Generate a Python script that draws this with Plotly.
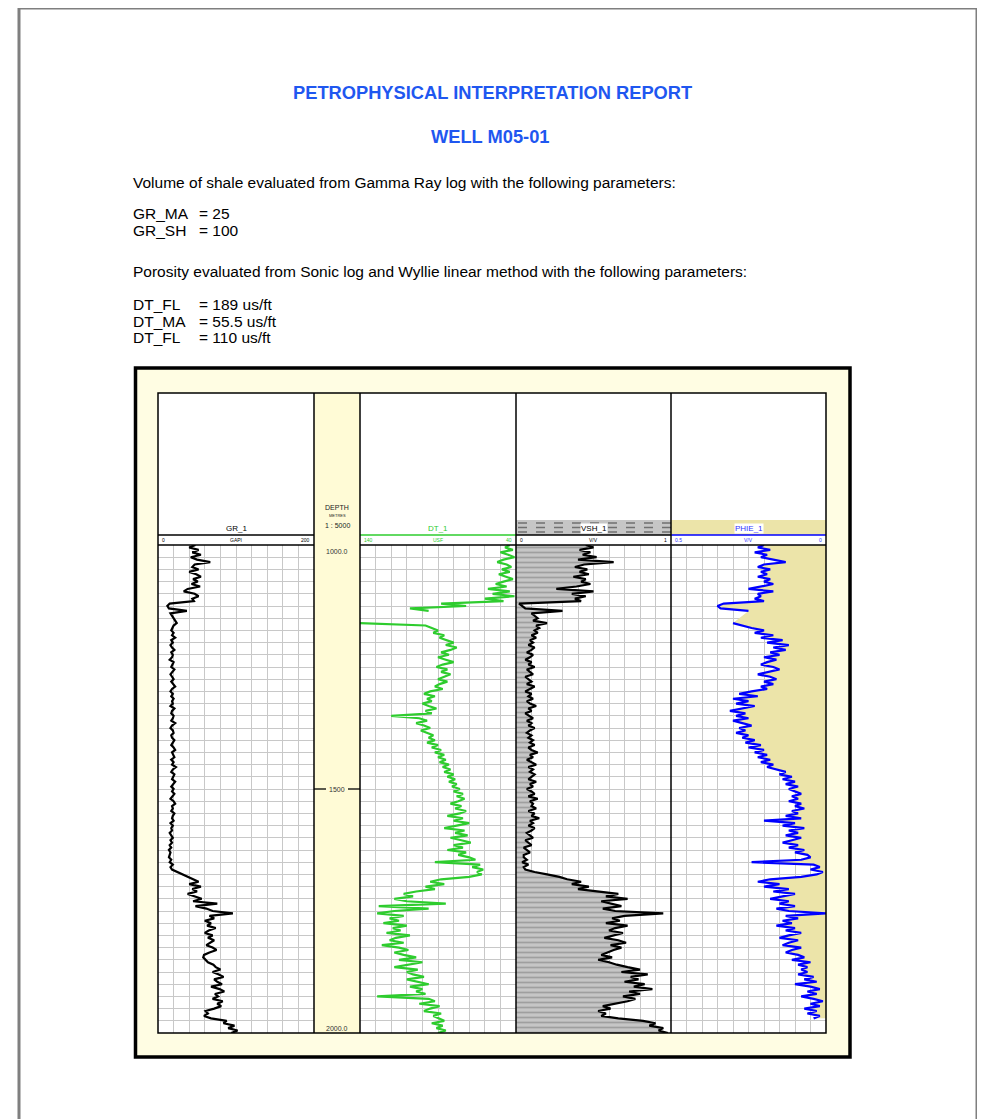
import plotly.graph_objects as go

W, H = 985, 1119
NaN = None

# ---------------- data ----------------
depth = list(range(1000, 2001, 5))  # metres, 5 m sampling

gr_api = [
    48, 40, 52, 44, 55, 42, 50, 67, 47, 44, 52, 40, 49, 55, 45, 51, 43, 54, 38, 33,
    47, 52, 44, 46, 15, 12, 14, 37, 16, 18, 21, 22, 24, 20,
    19, 17, 20, 18, 22, 17, 19, 16, 18, 21, 17, 19, 18, 15, 20, 18, 17, 21, 19, 16,
    18, 20, 17, 19, 22, 18, 16, 19, 17, 20, 18, 19, 16, 21, 18, 17, 20, 19, 17, 22,
    18, 16, 19, 20, 17, 18, 21,
    19, 17, 20, 22, 18, 19, 21, 17, 20, 18, 23, 19, 17, 21, 20, 18, 22, 19, 17, 20,
    18, 21, 19, 16, 20, 22, 18, 19, 17, 21, 19, 18, 20, 16, 19, 17, 18, 15, 17, 19,
    16, 18, 15, 17, 14, 16, 15,
    14, 17, 15, 19, 16, 18,
    25, 33, 40,
    46, 52, 40, 55, 44, 50, 38, 47, 56, 45,
    76, 48, 62, 70,
    96,
    66, 72, 60, 68, 63, 74, 65, 60, 70, 64, 72, 67, 62, 70, 75, 66,
    59, 58, 61,
    64, 71, 74, 80, 70, 78, 84, 72, 76, 82, 68, 79, 85, 73, 77, 70, 83, 76, 81, 72,
    61, 64, 59, 68,
    88, 84, 98, 90, 102, 94,
]

dt_usf = [
    44, 47, 42, 50, 45, 41, 48, 52, 46, 43, 49, 44, 51, 47, 42, 48, 53, 46,
    58, 44, 55, 41, 60, 48,
    88, 72, 108, 96,
    NaN, NaN, NaN, NaN,
    140, 98,
    94, 90, 93, 86, 89, 84, 80, 85, 78, 82,
    88, 83, 90, 85, 80, 87, 91, 84, 88, 82, 86, 90, 84, 89, 92, 87,
    95, 99, 92, 97, 94, 100, 96, 91, 98, 94,
    120,
    102, 97, 104, 99, 95, 101, 97, 93,
    96, 92, 97, 90, 94, 88, 92, 86, 90, 85, 89, 83, 87, 82, 86, 80, 84, 79,
    83, 78, 81, 76, 80, 74, 78, 73, 77, 82, 75, 79, 72, 76,
    84, 74, 80, 70, 78, 86, 73, 79, 71, 82, 75, 69, 80, 74, 84, 72, 77, 70,
    66, 92, 63, 68, 61, 65, 62, 70,
    88, 95, 86, 98, 92,
    104, 112, 106, 118, 110,
    85, 128, 96,
    118, 129, 112, 121, 115, 125, 110, 119, 114, 123, 108, 117, 121, 112, 126, 115, 109, 118,
    112, 104, 115, 100, 108, 118, 103, 110,
    106, 99, 110, 102, 96, 108, 100, 104,
    98, 129, 96, 92, 102, 89, 95, 99, 88, 93,
    90, 86, 94, 87, 91, 85, 90,
]

vsh_vv = [
    0.45, 0.50, 0.41, 0.48, 0.43, 0.52, 0.40,
    0.63,
    0.44, 0.38, 0.46, 0.41, 0.47, 0.37, 0.45, 0.42, 0.48, 0.39,
    0.26, 0.50, 0.36,
    0.45, 0.38, 0.42,
    0.02, 0.04, 0.06, 0.30, 0.10, 0.12, 0.14, 0.11, 0.20, 0.13,
    0.15, 0.12, 0.14, 0.10, 0.13, 0.09, 0.11, 0.08, 0.12, 0.10, 0.07, 0.11, 0.09, 0.06,
    0.10, 0.08, 0.12, 0.07, 0.09, 0.11, 0.06, 0.08, 0.10, 0.07, 0.12, 0.09, 0.06, 0.10,
    0.08, 0.11, 0.07, 0.09, 0.13, 0.08, 0.10, 0.06, 0.09, 0.11, 0.07, 0.10, 0.08, 0.12,
    0.09, 0.07, 0.10, 0.08, 0.11,
    0.09, 0.12, 0.08, 0.10, 0.14, 0.09, 0.11, 0.07, 0.10, 0.13, 0.08, 0.11, 0.09, 0.12,
    0.10, 0.08, 0.13, 0.09, 0.11, 0.07, 0.10, 0.12, 0.08, 0.14, 0.09, 0.11, 0.10, 0.13,
    0.08, 0.12, 0.10, 0.15, 0.09, 0.11, 0.08, 0.12, 0.10, 0.07, 0.09, 0.11, 0.06, 0.08,
    0.10, 0.05, 0.07, 0.09, 0.05,
    0.05, 0.07, 0.04, 0.08, 0.05, 0.06,
    0.12, 0.20, 0.28,
    0.33, 0.42, 0.36, 0.47, 0.40,
    0.52, 0.66, 0.58, 0.72, 0.55,
    0.62, 0.68, 0.56, 0.64,
    0.95,
    0.70, 0.62, 0.67, 0.58, 0.72, 0.64, 0.60, 0.69, 0.63, 0.57, 0.66, 0.71, 0.61, 0.68, 0.63, 0.59,
    0.55, 0.62, 0.53, 0.60, 0.65,
    0.72, 0.80, 0.68, 0.85, 0.74, 0.79, 0.70, 0.83, 0.76, 0.88, 0.73, 0.80, 0.69, 0.77, 0.72,
    0.64, 0.56, 0.61, 0.53, 0.58, 0.55, 0.66,
    0.82, 0.90, 0.86, 0.95, 0.92, 0.98,
]

phie_vv = [
    0.20, 0.22, 0.18, 0.23, 0.19, 0.21, 0.17,
    0.13,
    0.20, 0.22, 0.18, 0.21, 0.19, 0.22, 0.18, 0.20, 0.17, 0.21,
    0.25, 0.17, 0.22,
    0.21, 0.23, 0.20,
    0.33, 0.35, 0.34, 0.25,
    NaN, NaN, NaN, NaN,
    0.30, 0.27,
    0.24, 0.20, 0.23, 0.17, 0.21, 0.14, 0.19, 0.12, 0.17, 0.13,
    0.18, 0.15, 0.20, 0.16, 0.19, 0.21, 0.17, 0.15, 0.19, 0.22, 0.18, 0.16, 0.20, 0.17, 0.21, 0.19,
    0.24, 0.28, 0.22, 0.30, 0.25, 0.29, 0.23, 0.27, 0.31, 0.26,
    0.29, 0.25, 0.30, 0.27, 0.24, 0.28, 0.26, 0.29, 0.25,
    0.27, 0.23, 0.26, 0.21, 0.25, 0.20, 0.23, 0.19, 0.22, 0.18, 0.21, 0.17, 0.19,
    0.16, 0.13, 0.15, 0.11, 0.14, 0.10, 0.13, 0.09, 0.12, 0.10, 0.08, 0.11, 0.09, 0.12, 0.08, 0.10, 0.07,
    0.11, 0.09, 0.13, 0.08, 0.20, 0.10, 0.14, 0.07, 0.12, 0.09, 0.13, 0.08, 0.11, 0.14, 0.09, 0.12, 0.07, 0.10, 0.06,
    0.05, 0.08, 0.24, 0.04, 0.02, 0.05, 0.01, 0.03, 0.08,
    0.18, 0.22, 0.15, 0.20, 0.12, 0.17, 0.10, 0.14, 0.18, 0.12,
    0.15, 0.10, 0.16, 0.12,
    0.0,
    0.13, 0.09, 0.14, 0.11, 0.16, 0.10, 0.13, 0.08, 0.12, 0.15, 0.09, 0.12, 0.14, 0.08, 0.11, 0.13, 0.09,
    0.07, 0.11, 0.05, 0.09, 0.06, 0.08,
    0.06, 0.09, 0.04, 0.07, 0.03, 0.10, 0.05, 0.02, 0.06, 0.03, 0.08, 0.04, 0.01, 0.05, 0.02, 0.07, 0.03, 0.06, 0.02, 0.04,
    NaN, NaN, NaN, NaN, NaN, NaN,
]

for name, arr in [("gr", gr_api), ("dt", dt_usf), ("vsh", vsh_vv), ("phie", phie_vv)]:
    assert len(arr) == len(depth), (name, len(arr))

# track definitions: name, x-range, scale labels
track_names = ["GR_1", "DT_1", "VSH_1", "PHIE_1"]
track_ranges = [[0, 200], [140, 40], [0, 1], [0.5, 0]]
track_units = ["GAPI", "USF", "V/V", "V/V"]
track_left_lbl = ["0", "140", "0", "0.5"]
track_right_lbl = ["200", "40", "1", "0"]
depth_labels = ["1000.0", "1500", "2000.0"]

# ---------------- layout geometry (pixels in the page) ----------------
OFF = 8  # the page body margin shifts the figure by this many pixels


def X(px):
    return (px - OFF) / W


def Y(py):
    return 1 - (py - OFF) / H


T_GR = (158, 314)
T_DEP = (314, 360)
T_DT = (360, 516)
T_VSH = (516, 671)
T_PHI = (671, 826)
HDR_TOP, HDR_LINE, DATA_TOP, DATA_BOT = 393, 535, 545, 1033
track_px = [T_GR, T_DT, T_VSH, T_PHI]
colors = ["black", "#2ECC2E", "black", "#0000FF"]
GRID = "#C8C8C8"

fig = go.Figure()

axes_suffix = ["", "2", "3", "4"]
for i, (px, rng) in enumerate(zip(track_px, track_ranges)):
    s = axes_suffix[i]
    fig.update_layout(**{
        "xaxis" + s: dict(domain=[X(px[0]), X(px[1])], range=rng,
                          dtick=abs(rng[1] - rng[0]) / 10, tick0=min(rng),
                          showgrid=True, gridcolor=GRID, gridwidth=1.4,
                          showticklabels=False, ticks="", zeroline=False,
                          showline=False, anchor="y" + s, fixedrange=True),
        "yaxis" + s: dict(domain=[Y(DATA_BOT), Y(DATA_TOP)], range=[2000, 1000],
                          dtick=25, tick0=1000, showgrid=True, gridcolor=GRID,
                          gridwidth=1.4, showticklabels=False, ticks="",
                          zeroline=False, showline=False, anchor="x" + s,
                          fixedrange=True),
    })

LW = 2.2
# GR curve
fig.add_trace(go.Scatter(x=gr_api, y=depth, mode="lines",
                         line=dict(color="black", width=LW),
                         xaxis="x", yaxis="y", showlegend=False))
# DT curve
fig.add_trace(go.Scatter(x=dt_usf, y=depth, mode="lines",
                         line=dict(color="#2ECC2E", width=LW),
                         xaxis="x2", yaxis="y2", showlegend=False))
# VSH curve with shale pattern fill from left
fig.add_trace(go.Scatter(x=vsh_vv, y=depth, mode="lines", fill="tozerox",
                         fillcolor="#C2C2C2",
                         fillpattern=dict(shape="-", bgcolor="#C6C6C6",
                                          fgcolor="#777777", size=5, solidity=0.35),
                         line=dict(color="black", width=LW),
                         xaxis="x3", yaxis="y3", showlegend=False))
# PHIE curve with khaki fill to the right (0)
fig.add_trace(go.Scatter(x=phie_vv, y=depth, mode="lines", fill="tozerox",
                         fillcolor="#ECE4A9",
                         line=dict(color="#0000FF", width=LW),
                         xaxis="x4", yaxis="y4", showlegend=False))

shapes = []
# page frame
shapes.append(dict(type="rect", xref="paper", yref="paper", x0=X(19), x1=X(977),
                   y0=Y(1135), y1=Y(8), line=dict(color="#7F7F7F", width=3),
                   fillcolor="white", layer="below"))
# log box
shapes.append(dict(type="rect", xref="paper", yref="paper", x0=X(135.5), x1=X(850),
                   y0=Y(1057), y1=Y(368), line=dict(color="black", width=3.5),
                   fillcolor="#FFFDE3", layer="below"))
# white tracks area
shapes.append(dict(type="rect", xref="paper", yref="paper", x0=X(158), x1=X(826),
                   y0=Y(DATA_BOT), y1=Y(HDR_TOP), line=dict(width=0),
                   fillcolor="white", layer="below"))
# depth column
shapes.append(dict(type="rect", xref="paper", yref="paper", x0=X(T_DEP[0]), x1=X(T_DEP[1]),
                   y0=Y(DATA_BOT), y1=Y(HDR_TOP), line=dict(width=0),
                   fillcolor="#FFFBD6", layer="below"))
# VSH header pattern
shapes.append(dict(type="rect", xref="paper", yref="paper", x0=X(T_VSH[0]), x1=X(T_VSH[1]),
                   y0=Y(HDR_LINE), y1=Y(520), line=dict(width=0),
                   fillcolor="#C6C6C6", layer="below"))
for yy in (523, 527.5, 532):
    shapes.append(dict(type="line", xref="paper", yref="paper", x0=X(T_VSH[0] + 2),
                       x1=X(T_VSH[1]), y0=Y(yy), y1=Y(yy), layer="below",
                       line=dict(color="#707070", width=1.3, dash="dash")))
# PHIE header khaki
shapes.append(dict(type="rect", xref="paper", yref="paper", x0=X(T_PHI[0]), x1=X(T_PHI[1]),
                   y0=Y(HDR_LINE), y1=Y(520), line=dict(width=0),
                   fillcolor="#ECE4A9", layer="below"))
# header scale lines
for px, c in zip(track_px, colors):
    shapes.append(dict(type="line", xref="paper", yref="paper", x0=X(px[0]), x1=X(px[1]),
                       y0=Y(HDR_LINE), y1=Y(HDR_LINE), line=dict(color=c, width=1.6)))
# data top line
for px in track_px:
    shapes.append(dict(type="line", xref="paper", yref="paper", x0=X(px[0]), x1=X(px[1]),
                       y0=Y(DATA_TOP), y1=Y(DATA_TOP), line=dict(color="black", width=1.6)))
# outer border and separators
shapes.append(dict(type="rect", xref="paper", yref="paper", x0=X(158), x1=X(826),
                   y0=Y(DATA_BOT), y1=Y(HDR_TOP), line=dict(color="black", width=1.5)))
for xx in (T_DEP[0], T_DEP[1], T_VSH[0], T_PHI[0]):
    shapes.append(dict(type="line", xref="paper", yref="paper", x0=X(xx), x1=X(xx),
                       y0=Y(DATA_BOT), y1=Y(HDR_TOP), line=dict(color="black", width=1.5)))
# depth tick at 1500
shapes.append(dict(type="line", xref="paper", yref="y", x0=X(314), x1=X(326),
                   y0=1500, y1=1500, line=dict(color="black", width=1.3)))
shapes.append(dict(type="line", xref="paper", yref="y", x0=X(348), x1=X(360),
                   y0=1500, y1=1500, line=dict(color="black", width=1.3)))

FONT = "Liberation Sans, Arial, sans-serif"
ann = []


def txt(text, px, py, size, color="black", xanchor="left", bold=False, bg=None):
    d = dict(text=("<b>%s</b>" % text) if bold else text, x=X(px), y=Y(py),
             xref="paper", yref="paper", xanchor=xanchor, yanchor="middle",
             showarrow=False, font=dict(family=FONT, size=size, color=color))
    if bg:
        d.update(bgcolor=bg, borderpad=0)
    ann.append(d)


BLUE = "#1F57F0"
BODY = 15.5
TITLE = 18.3
txt("PETROPHYSICAL INTERPRETATION REPORT", 492, 93, TITLE, BLUE, "center", True)
txt("WELL M05-01", 490, 136, TITLE, BLUE, "center", True)
txt("Volume of shale evaluated from Gamma Ray log with the following parameters:", 131, 182, BODY)
txt("GR_MA", 131, 214, BODY)
txt("= 25", 197, 214, BODY)
txt("GR_SH", 131, 230, BODY)
txt("= 100", 197, 230, BODY)
txt("Porosity evaluated from Sonic log and Wyllie linear method with the following parameters:", 131, 271, BODY)
txt("DT_FL", 131, 305, BODY)
txt("= 189 us/ft", 197, 305, BODY)
txt("DT_MA", 131, 321, BODY)
txt("= 55.5 us/ft", 197, 321, BODY)
txt("DT_FL", 131, 338, BODY)
txt("= 110 us/ft", 197, 338, BODY)

# track headers
hdr_colors = ["black", "#2ECC2E", "black", "#3333FF"]
for i, px in enumerate(track_px):
    cx = (px[0] + px[1]) / 2
    bg = "white" if i >= 2 else None
    txt(track_names[i], cx, 529, 8, hdr_colors[i], "center", bg=bg)
    txt(track_left_lbl[i], px[0] + 2, 539.5, 5, hdr_colors[i], "left")
    txt(track_units[i], cx, 539.5, 5, hdr_colors[i], "center")
    txt(track_right_lbl[i], px[1] - 2, 539.5, 5, hdr_colors[i], "right")

# depth header
txt("DEPTH", 337, 508, 7, "#222", "center")
txt("METRES", 337, 515.5, 4, "#222", "center")
txt("1 : 5000", 337, 526, 7, "#222", "center")

# depth labels (data coordinates)
for lbl, d, shift in zip(depth_labels, [1000, 1500, 2000], [-6, 0, 5]):
    ann.append(dict(text=lbl, x=X(337), y=d, xref="paper", yref="y", xanchor="center",
                    yanchor="middle", yshift=shift, showarrow=False,
                    font=dict(family=FONT, size=7, color="#333")))

fig.update_layout(width=W, height=H, margin=dict(l=0, r=0, t=0, b=0),
                  paper_bgcolor="white", plot_bgcolor="rgba(0,0,0,0)",
                  shapes=shapes, annotations=ann, showlegend=False)

fig.write_html("out.html")
